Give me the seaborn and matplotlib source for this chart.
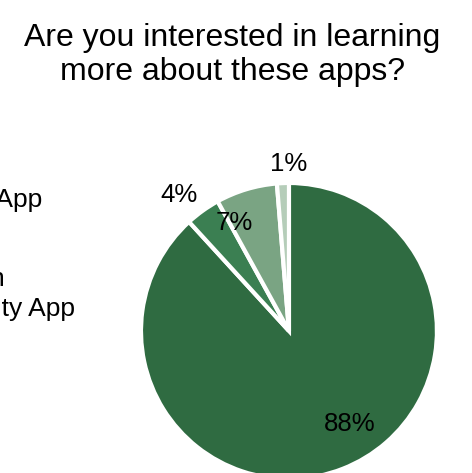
import numpy as np
import matplotlib
matplotlib.use("Agg")
import matplotlib.pyplot as plt
import seaborn as sns

# данные опроса
answers = ["Yes, Workout App", "Yes, both", "Yes, Hydration\nPhysical Activity App", "No"]
shares = [88.2, 3.8, 6.7, 1.3]
pct_labels = ["88%", "4%", "7%", "1%"]
# позиции подписей (доли радиуса)
label_xy = [(0.41, -0.63), (-0.74, 0.92), (-0.37, 0.73), (0.0, 1.13)]
colors = ["#2F6B41", "#3B7F52", "#7AA483", "#B5CDB9"]

sns.set_theme(style="white")
plt.rcParams["font.family"] = ["Liberation Sans", "DejaVu Sans"]
plt.rcParams["text.color"] = "black"

fig = plt.figure(figsize=(4.72, 4.73), dpi=100)
ax = fig.add_axes([0.2987, -0.0127, 0.627, 0.626])

wedges, _ = ax.pie(
    shares,
    colors=sns.color_palette(colors),
    startangle=90,
    counterclock=False,
    wedgeprops=dict(edgecolor="white", linewidth=3),
)
for txt, (x, y) in zip(pct_labels, label_xy):
    ax.text(x, y, txt, ha="center", va="center", fontsize=18.5, color="black")
ax.set_xlim(-1, 1)
ax.set_ylim(-1, 1)
ax.set_aspect("equal")
ax.axis("off")

fig.text(0.492, 0.952, "Are you interested in learning\nmore about these apps?",
         ha="center", va="top", fontsize=23, linespacing=1.2, color="black")

leg = fig.legend(wedges, answers, loc="upper right", bbox_to_anchor=(0.159, 0.602),
                 frameon=False, fontsize=19, borderpad=0, borderaxespad=0,
                 labelspacing=0.575, handlelength=1.0)
for t in leg.get_texts():
    t.set_color("black")
    t.set_linespacing(1.32)

plt.savefig("out.png", dpi=100)
